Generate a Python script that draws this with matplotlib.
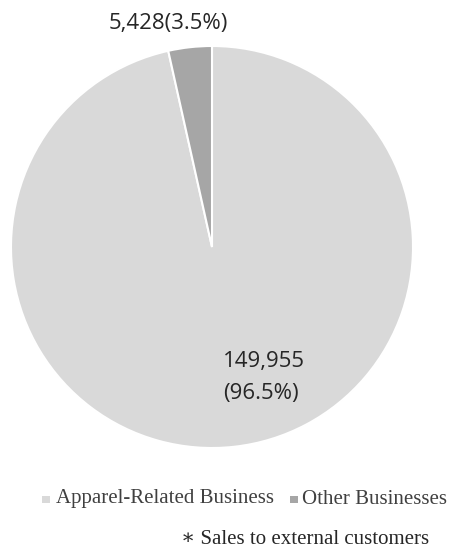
import matplotlib
matplotlib.use("Agg")
import matplotlib.pyplot as plt
from matplotlib.patches import Rectangle

# data
segments = ['Apparel-Related Business', 'Other Businesses']
sales = [149955, 5428]
shares = [96.5, 3.5]
colors = ['#d9d9d9', '#a6a6a6']
note = '\u2217 Sales to external customers'

W, H = 451, 547
fig = plt.figure(figsize=(W / 100, H / 100), dpi=100)

# pie centre (212, 247) px, radius 201 px
cx, cy, r = 212, 247, 201
ax = fig.add_axes([(cx - r) / W, (H - cy - r) / H, 2 * r / W, 2 * r / H])
ax.pie(sales, colors=colors, startangle=90, counterclock=False,
       wedgeprops=dict(edgecolor='white', linewidth=1.5))
ax.set_xlim(-1, 1)
ax.set_ylim(-1, 1)
ax.set_aspect('equal')
ax.axis('off')

lab_font = ['Open Sans', 'DejaVu Sans']
fig.text(168 / W, 1 - 24 / H, f'{sales[1]:,}({shares[1]}%)', ha='center', va='center',
         fontsize=16, color='#262626', family=lab_font)
fig.text(223 / W, 1 - 361 / H, f'{sales[0]:,}', ha='left', va='center',
         fontsize=16, color='#262626', family=lab_font)
fig.text(223 / W, 1 - 393 / H, f'({shares[0]}%)', ha='left', va='center',
         fontsize=16, color='#262626', family=lab_font)

# legend
serif = ['Liberation Serif', 'DejaVu Serif']
ly = 1 - 499 / H
fig.patches.append(Rectangle((42 / W, ly - 4 / H), 8 / W, 7 / H, transform=fig.transFigure,
                             facecolor=colors[0], edgecolor='none'))
fig.text(56 / W, ly, segments[0], ha='left', va='center', fontsize=15,
         color='#404040', family=serif)
fig.patches.append(Rectangle((290 / W, ly - 4 / H), 8 / W, 7 / H, transform=fig.transFigure,
                             facecolor=colors[1], edgecolor='none'))
fig.text(302 / W, ly, segments[1], ha='left', va='center', fontsize=15,
         color='#404040', family=serif)

fig.text(429 / W, 1 - 539 / H, note, ha='right', va='center', fontsize=15,
         color='#262626', family=serif)

fig.savefig('out.png', dpi=100)
